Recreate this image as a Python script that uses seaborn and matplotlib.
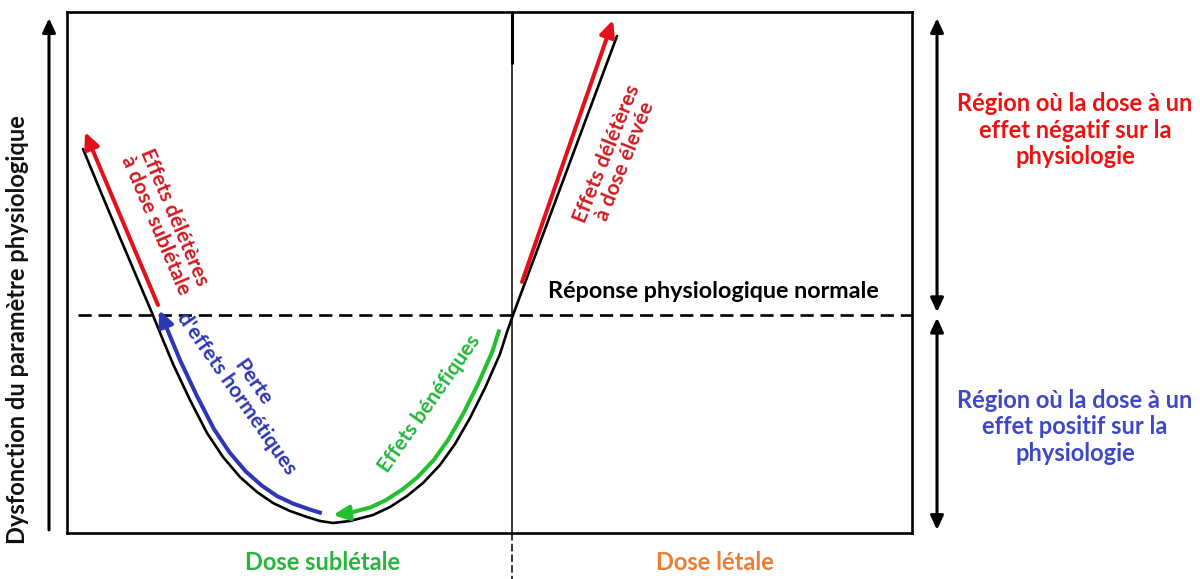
import numpy as np
import matplotlib
matplotlib.use("Agg")
import matplotlib.pyplot as plt
import matplotlib.transforms as mtrans
from matplotlib.patches import FancyArrowPatch
from matplotlib.path import Path
import seaborn as sns

# courbe dose-réponse (unités : dose 0-845, réponse 0-521)
dose = [16, 33, 51, 68, 85, 96, 106, 123, 140, 156, 173, 190, 206, 223, 240,
        253, 266, 283, 306, 323, 340, 356, 373, 388, 403, 418, 433, 440, 446, 550]
reponse = [384, 343, 300, 260, 220, 193, 169, 133, 100, 76, 56, 41, 30, 22, 16,
           12, 10, 12, 18, 26, 37, 50, 68, 89, 115, 145, 179, 201, 218, 497]

niveau_normal = 218      # réponse physiologique normale
dose_seuil = 445         # limite sublétale / létale
x_max, y_max = 845, 521

# flèches droites rouges (départ, pointe)
fleche_subletale = [(91, 228), (18, 401)]
fleche_elevee = [(455, 251), (546, 513)]
# portions de courbe suivies par les flèches bleue et verte (indices)
idx_bleu = (15, 4)
idx_vert = (27, 16)

ROUGE = "#e3101b"
ROUGE_TXT = "#d11a1f"
BLEU = "#2d36b4"
BLEU_TXT = "#3c48c8"
VERT = "#22c02e"
VERT_TXT = "#24b63a"
ORANGE = "#ed7d31"

sns.set_theme(style="white")
plt.rcParams["font.family"] = ["Lato", "DejaVu Sans"]

fig, ax = plt.subplots(figsize=(12, 5.79), dpi=100)
fig.subplots_adjust(left=67 / 1200, right=912 / 1200, bottom=46 / 579, top=1 - 12 / 579)
ax.set_xlim(0, x_max)
ax.set_ylim(0, y_max)
ax.set_xticks([])
ax.set_yticks([])
for sp in ax.spines.values():
    sp.set_color("black")
    sp.set_linewidth(1.9)

# ligne horizontale pointillée et séparation verticale
ax.plot([11, x_max], [niveau_normal, niveau_normal], color="black", lw=1.9,
        ls=(0, (5, 2.6)), zorder=2)
ax.plot([dose_seuil, dose_seuil], [0, y_max], color="black", lw=1.1, zorder=2)
ax.plot([dose_seuil, dose_seuil], [470, y_max], color="black", lw=2.2, zorder=2)
below = mtrans.blended_transform_factory(ax.transData, ax.transAxes)
ax.plot([dose_seuil, dose_seuil], [0, -0.09], color="black", lw=1.1,
        ls=(0, (5, 2)), transform=below, clip_on=False)

# courbe
sns.lineplot(x=dose, y=reponse, sort=False, estimator=None, color="black",
             lw=1.9, ax=ax, zorder=3)
ax.lines[-1].set_solid_joinstyle("round")

head = "-|>,head_length=0.6,head_width=0.28"

# flèches rouges droites
for (x0, y0), (x1, y1) in [fleche_subletale, fleche_elevee]:
    ax.annotate("", xy=(x1, y1), xytext=(x0, y0),
                arrowprops=dict(arrowstyle=head, color=ROUGE, lw=2.9,
                                shrinkA=0, shrinkB=0, mutation_scale=16))


def courbe_decalee(i0, i1, px=8):
    # décale la courbe vers l'intérieur du U de px pixels
    pts = ax.transData.transform(np.column_stack([dose, reponse]))
    t = np.gradient(pts, axis=0)
    t /= np.linalg.norm(t, axis=1)[:, None]
    n = np.column_stack([-t[:, 1], t[:, 0]])
    off = pts + px * n
    step = 1 if i1 > i0 else -1
    sel = off[i0:i1 + step:step] if i1 > 0 else off[i0::step]
    return ax.transData.inverted().transform(sel)


for (i0, i1), col in [(idx_bleu, BLEU), (idx_vert, VERT)]:
    p = courbe_decalee(i0, i1)
    arr = FancyArrowPatch(path=Path(p), arrowstyle=head, color=col, lw=2.9,
                          mutation_scale=16, transform=ax.transData,
                          joinstyle="round", capstyle="butt", zorder=4)
    ax.add_patch(arr)

# textes inclinés
ax.text(98, 312, "Effets délétères\nà dose sublétale", rotation=-67,
        rotation_mode="anchor", ha="center", va="center", color=ROUGE_TXT,
        fontsize=15, fontweight="bold", linespacing=1.0)
ax.text(178, 145, "Perte\nd'effets hormétiques", rotation=-55,
        rotation_mode="anchor", ha="center", va="center", color=BLEU,
        fontsize=15, fontweight="bold", linespacing=1.0)
ax.text(362, 129, "Effets bénéfiques", rotation=55, rotation_mode="anchor",
        ha="center", va="center", color=VERT_TXT, fontsize=15, fontweight="bold")
ax.text(549, 376, "Effets délétères\nà dose élevée", rotation=68,
        rotation_mode="anchor", ha="center", va="center", color=ROUGE_TXT,
        fontsize=15, fontweight="bold", linespacing=1.0)

ax.text(646, 242, "Réponse physiologique normale", ha="center", va="center",
        color="black", fontsize=16.8, fontweight="bold")
ax.text(256, -30, "Dose sublétale", ha="center", va="center", color=VERT_TXT,
        fontsize=17, fontweight="bold", clip_on=False)
ax.text(648, -30, "Dose létale", ha="center", va="center", color=ORANGE,
        fontsize=17, fontweight="bold", clip_on=False)

# régions à droite
ax.text(1008, 403, "Région où la dose à un\neffet négatif sur la\nphysiologie",
        ha="center", va="center", color="#f01010", fontsize=17, fontweight="bold",
        linespacing=1.2, clip_on=False)
ax.text(1008, 106, "Région où la dose à un\neffet positif sur la\nphysiologie",
        ha="center", va="center", color=BLEU_TXT, fontsize=17, fontweight="bold",
        linespacing=1.2, clip_on=False)

# flèches d'axes
ax_arrow = dict(color="black", lw=2.2, shrinkA=0, shrinkB=0, mutation_scale=14)
ax.annotate("", xy=(-0.0213, 0.988), xytext=(-0.0213, 0.006),
            xycoords="axes fraction", textcoords="axes fraction",
            arrowprops=dict(arrowstyle=head, **ax_arrow), annotation_clip=False)
dbl = "<|-|>,head_length=0.6,head_width=0.28"
ax.annotate("", xy=(1.0296, 0.988), xytext=(1.0296, 0.424),
            xycoords="axes fraction", textcoords="axes fraction",
            arrowprops=dict(arrowstyle=dbl, **ax_arrow), annotation_clip=False)
ax.annotate("", xy=(1.0296, 0.413), xytext=(1.0296, 0.006),
            xycoords="axes fraction", textcoords="axes fraction",
            arrowprops=dict(arrowstyle=dbl, **ax_arrow), annotation_clip=False)

fig.text(18 / 1200, 1 - 330 / 579, "Dysfonction du paramètre physiologique",
         rotation=90, ha="center", va="center", fontsize=17, fontweight="bold",
         color="#111111")

fig.savefig("out.png", dpi=100)
